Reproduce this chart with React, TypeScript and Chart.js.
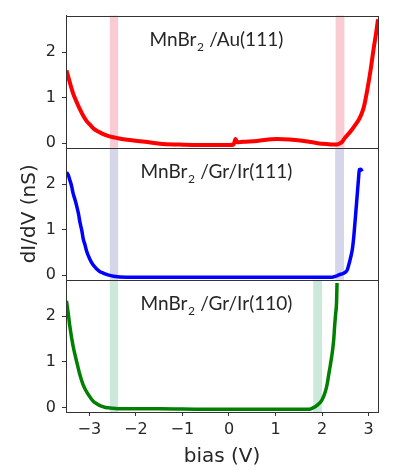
import React, { useEffect, useRef } from "react";
import { Chart, registerables } from "chart.js";

Chart.register(...registerables);

// ---- data (bias in V, dI/dV in nS) ----
const biasAu = [-3.49, -3.42, -3.35, -3.27, -3.2, -3.13, -3.06, -2.98, -2.91, -2.8, -2.7, -2.6, -2.48, -2.3, -2.05, -1.8, -1.48, -1.1, -0.76, -0.4, 0.0, 0.1, 0.14, 0.18, 0.3, 0.6, 1.03, 1.3, 1.53, 1.9, 2.1, 2.25, 2.35, 2.42, 2.5, 2.58, 2.65, 2.72, 2.79, 2.85, 2.9, 2.97, 3.04, 3.11, 3.16, 3.2];
const dIdVAu = [1.6, 1.34, 1.1, 0.9, 0.74, 0.6, 0.49, 0.4, 0.32, 0.25, 0.2, 0.16, 0.13, 0.09, 0.06, 0.03, -0.01, -0.03, -0.04, -0.04, -0.04, -0.03, 0.09, 0.02, 0.03, 0.05, 0.09, 0.08, 0.06, 0.0, -0.02, -0.03, -0.02, 0.02, 0.13, 0.22, 0.31, 0.41, 0.52, 0.65, 0.81, 1.17, 1.6, 2.1, 2.42, 2.72];

const biasIr111 = [-3.49, -3.45, -3.42, -3.38, -3.35, -3.31, -3.27, -3.23, -3.2, -3.16, -3.13, -3.09, -3.06, -2.99, -2.92, -2.84, -2.77, -2.7, -2.6, -2.48, -2.2, -1.5, -0.5, 0.5, 1.5, 2.0, 2.22, 2.3, 2.36, 2.45, 2.5, 2.54, 2.57, 2.61, 2.65, 2.68, 2.7, 2.72, 2.74, 2.76, 2.78, 2.8, 2.83, 2.86];
const dIdVIr111 = [2.26, 2.2, 2.1, 1.96, 1.81, 1.67, 1.52, 1.34, 1.16, 0.98, 0.8, 0.66, 0.54, 0.36, 0.23, 0.14, 0.08, 0.05, 0.01, -0.02, -0.04, -0.04, -0.04, -0.04, -0.04, -0.04, -0.04, -0.02, 0.01, 0.04, 0.07, 0.12, 0.22, 0.38, 0.58, 0.85, 1.09, 1.34, 1.59, 1.85, 2.1, 2.32, 2.33, 2.28];

const biasIr110 = [-3.49, -3.45, -3.42, -3.35, -3.27, -3.2, -3.13, -3.02, -2.91, -2.84, -2.77, -2.65, -2.56, -2.3, -1.5, -0.5, 0.5, 1.5, 1.71, 1.78, 1.86, 1.93, 2.0, 2.07, 2.11, 2.14, 2.18, 2.22, 2.25, 2.27, 2.29, 2.31, 2.32];
const dIdVIr110 = [2.34, 2.05, 1.8, 1.36, 1.0, 0.71, 0.49, 0.28, 0.13, 0.08, 0.04, 0.0, -0.01, -0.03, -0.03, -0.04, -0.04, -0.04, -0.04, -0.02, 0.02, 0.08, 0.17, 0.35, 0.52, 0.71, 0.95, 1.22, 1.5, 1.8, 2.05, 2.3, 2.73];

// shaded gap-edge bands [from, to] in V
const bandsAu = [[-2.56, -2.38], [2.29, 2.48]];
const bandsIr111 = [[-2.56, -2.38], [2.28, 2.47]];
const bandsIr110 = [[-2.56, -2.38], [1.81, 2.0]];

const substrates = ["/Au(111)", "/Gr/Ir(111)", "/Gr/Ir(110)"];
const lineColors = ["#ff0000", "#0000ff", "#008000"];
const bandColors = ["rgb(248,204,210)", "rgb(214,214,234)", "rgb(204,232,218)"];

const xMin = -3.5, xMax = 3.2, yMin = -0.1, yMax = 2.8;

const panels = [
  { id: "yA", xs: biasAu, ys: dIdVAu, bands: bandsAu, sub: substrates[0], color: lineColors[0], band: bandColors[0], width: 4 },
  { id: "yB", xs: biasIr111, ys: dIdVIr111, bands: bandsIr111, sub: substrates[1], color: lineColors[1], band: bandColors[1], width: 3.5 },
  { id: "yC", xs: biasIr110, ys: dIdVIr110, bands: bandsIr110, sub: substrates[2], color: lineColors[2], band: bandColors[2], width: 3.5 },
];

const TXT = "#262626";
const tickFont = { family: "DejaVu Sans", size: 16 };
const labelFont = { family: "DejaVu Sans", size: 20 };

export default function App() {
  const ref = useRef<HTMLCanvasElement>(null);

  useEffect(() => {
    if (!ref.current) return;

    const bandPlugin = {
      id: "bands",
      beforeDatasetsDraw(chart: any) {
        const { ctx, scales } = chart;
        const xs = scales.x;
        ctx.save();
        panels.forEach((p) => {
          const s = scales[p.id];
          ctx.fillStyle = p.band;
          p.bands.forEach(([a, b]) => {
            const x0 = xs.getPixelForValue(a);
            const x1 = xs.getPixelForValue(b);
            ctx.fillRect(x0, s.top, x1 - x0, s.bottom - s.top);
          });
        });
        ctx.restore();
      },
    };

    const framePlugin = {
      id: "frames",
      afterDatasetsDraw(chart: any) {
        const { ctx, scales, chartArea } = chart;
        const xs = scales.x;
        ctx.save();
        ctx.strokeStyle = "#333";
        ctx.lineWidth = 1;
        panels.forEach((p) => {
          const s = scales[p.id];
          ctx.strokeRect(Math.round(chartArea.left) + 0.5, Math.round(s.top) + 0.5, Math.round(chartArea.right - chartArea.left), Math.round(s.bottom - s.top));
        });
        // annotations
        panels.forEach((p) => {
          const s = scales[p.id];
          const cx = xs.getPixelForValue(-0.27);
          const cy = s.getPixelForValue(2.27);
          const main = "MnBr";
          const subTxt = "2";
          const rest = " " + p.sub;
          ctx.fillStyle = TXT;
          ctx.textBaseline = "middle";
          ctx.textAlign = "left";
          ctx.font = "19px Lato";
          const w1 = ctx.measureText(main).width;
          const w3 = ctx.measureText(rest).width;
          ctx.font = "12px Lato";
          const w2 = ctx.measureText(subTxt).width;
          const total = w1 + w2 + 1 + w3;
          let x = cx - total / 2;
          ctx.font = "19px Lato";
          ctx.fillText(main, x, cy);
          x += w1 + 0.5;
          ctx.font = "12px Lato";
          ctx.fillText(subTxt, x, cy + 7);
          x += w2 + 0.5;
          ctx.font = "19px Lato";
          ctx.fillText(rest, x, cy);
        });
        ctx.restore();
      },
    };

    const yScale = (title: boolean) => ({
      type: "linear" as const,
      position: "left" as const,
      stack: "panels",
      stackWeight: 1,
      min: yMin,
      max: yMax,
      afterFit(scale: any) {
        scale.width = 66;
      },
      ticks: {
        stepSize: 1,
        includeBounds: false,
        color: TXT,
        font: tickFont,
        padding: 6,
      },
      grid: { display: true, drawOnChartArea: false, drawTicks: true, tickLength: 4, color: "#333" },
      border: { display: true, color: "#333", width: 1 },
      title: title
        ? { display: true, text: "dI/dV (nS)", color: TXT, font: labelFont, padding: { top: 18, bottom: 0 } }
        : { display: false },
    });

    const chart = new Chart(ref.current, {
      type: "line",
      data: {
        datasets: panels.map((p) => ({
          data: p.xs.map((x, i) => ({ x, y: p.ys[i] })),
          yAxisID: p.id,
          borderColor: p.color,
          borderWidth: p.width,
          pointRadius: 0,
          cubicInterpolationMode: "monotone" as const,
          fill: false,
        })),
      },
      options: {
        responsive: false,
        animation: false,
        layout: { padding: { top: 9, right: 19, left: 0, bottom: 0 } },
        plugins: { legend: { display: false }, tooltip: { enabled: false } },
        scales: {
          x: {
            type: "linear",
            min: xMin,
            max: xMax,
            afterFit(scale: any) {
              scale.height = 60;
            },
            ticks: {
              stepSize: 1,
              includeBounds: false,
              color: TXT,
              font: tickFont,
              padding: 4,
              maxRotation: 0,
              callback: (v: any) => (v < 0 ? "\u2212" + Math.abs(v) : String(v)),
            },
            grid: { display: true, drawOnChartArea: false, drawTicks: true, tickLength: 4, color: "#333" },
            border: { display: true, color: "#333", width: 1 },
            title: { display: true, text: "bias (V)", color: TXT, font: labelFont, padding: { top: 0, bottom: 3 } },
          },
          // stacked panels: first listed sits at the bottom
          yC: yScale(false),
          yB: yScale(true),
          yA: yScale(false),
        } as any,
      },
      plugins: [bandPlugin, framePlugin],
    });

    return () => chart.destroy();
  }, []);

  return (
    <div style={{ position: "fixed", left: 0, top: 0, width: 397, height: 472, background: "#fff" }}>
      <canvas ref={ref} width={397} height={472} style={{ display: "block" }} />
    </div>
  );
}
